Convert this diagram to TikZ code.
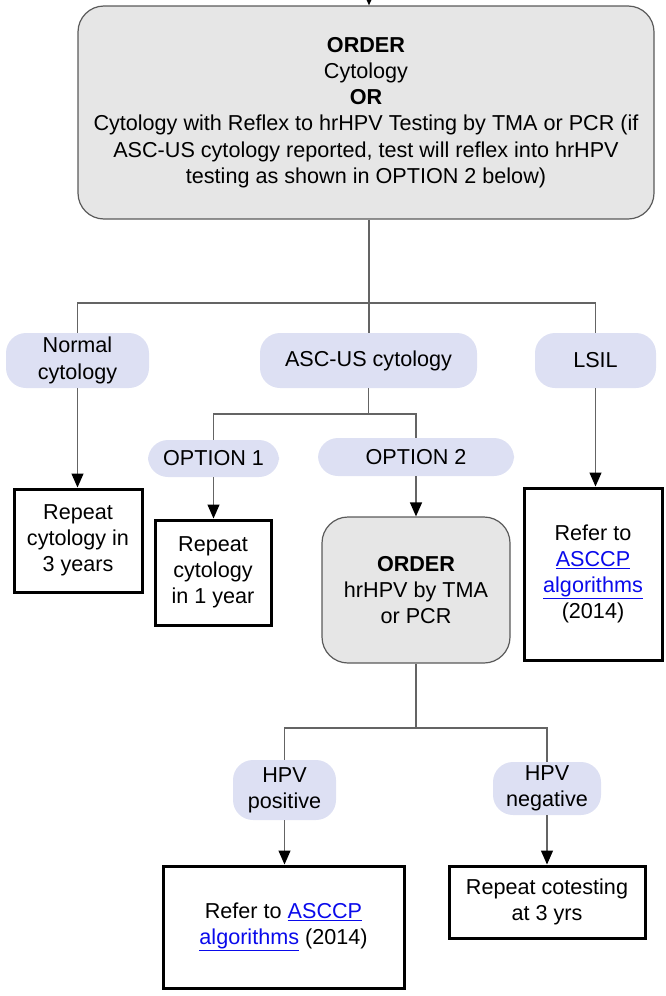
\documentclass[tikz,border=0pt]{standalone}
\usepackage{fontspec}
\setmainfont{Liberation Sans}
\usetikzlibrary{arrows.meta}
\definecolor{pillc}{RGB}{221,224,243}
\definecolor{boxg}{RGB}{230,230,230}
\definecolor{boxb}{RGB}{90,90,90}
\definecolor{lnc}{RGB}{100,100,100}
\definecolor{linkc}{RGB}{10,10,235}
\newcommand{\lnk}[1]{\textcolor{linkc}{\underline{#1}}}
\tikzset{
  base/.style={align=center, inner sep=0pt, font=\fontsize{21.6}{26.2}\selectfont},
  pill/.style={base, fill=pillc, draw=none, rounded corners=20pt},
  outbox/.style={base, draw=black, line width=3pt},
  graybox/.style={base, fill=boxg, draw=boxb, line width=1.2pt, rounded corners=26pt},
  ln/.style={draw=lnc, line width=1.3pt},
  arr/.style={ln, -{Triangle[length=14pt,width=12pt,color=black]}},
}
\begin{document}
\begin{tikzpicture}[x=1pt,y=-1pt]
\useasboundingbox (0,0) rectangle (666,996);
% top box
\node[graybox, minimum width=576pt, minimum height=213pt] (top) at (366,112.5)
 {\textbf{ORDER}\\Cytology\\\textbf{OR}\\Cytology with Reflex to hrHPV Testing by TMA or PCR (if\\ASC-US cytology reported, test will reflex into hrHPV\\testing as shown in OPTION 2 below)};
% level 1 pills
\node[pill, minimum width=143pt, minimum height=55pt] (nc) at (77.5,360.5) {Normal\\cytology};
\node[pill, minimum width=217pt, minimum height=55pt] (asc) at (368.5,360.5) {ASC-US cytology};
\node[pill, minimum width=121pt, minimum height=55pt] (lsil) at (595.5,360.5) {LSIL};
% outcome boxes
\node[outbox, minimum width=128pt, minimum height=103pt] (r3) at (78,540.5) {Repeat\\cytology in\\3 years};
\node[pill, minimum width=131pt, minimum height=37pt] (o1) at (213.5,458.5) {OPTION 1};
\node[pill, minimum width=196pt, minimum height=38pt] (o2) at (416,457) {OPTION 2};
\node[outbox, minimum width=116pt, minimum height=105pt] (r1) at (213,572.5) {Repeat\\cytology\\in 1 year};
\node[graybox, minimum width=188pt, minimum height=146pt] (ord) at (416,590) {\textbf{ORDER}\\hrHPV by TMA\\or PCR};
\node[outbox, minimum width=138pt, minimum height=172pt] (ref1) at (593,574) {Refer to\\\lnk{ASCCP}\\\lnk{algorithms}\\(2014)};
% HPV level
\node[pill, minimum width=103pt, minimum height=60pt] (hp) at (284.5,790) {HPV\\positive};
\node[pill, minimum width=108pt, minimum height=53pt] (hn) at (547,788.5) {HPV\\negative};
\node[outbox, minimum width=241pt, minimum height=122pt] (ref2) at (283.5,927) {Refer to \lnk{ASCCP}\\\lnk{algorithms} (2014)};
\node[outbox, minimum width=196pt, minimum height=72pt] (cot) at (547,902) {Repeat cotesting\\at 3 yrs};
% connectors
\coordinate (tin) at (369,0);
\draw[arr] (tin) -- (tin |- top.north);
\coordinate (b1) at (369,303);
\draw[ln] (tin |- top.south) -- (b1);
\draw[ln] (nc.north) |- (lsil.north |- b1) -- (lsil.north);
\draw[ln] (b1) -- (asc.north -| b1);
\draw[arr] (nc.south) -- (nc.south |- r3.north);
\draw[arr] (lsil.south) -- (lsil.south |- ref1.north);
\coordinate (b2) at (368.5,414);
\draw[ln] (asc.south) -- (b2);
\draw[ln] (o1.north) |- (o2.north |- b2) -- (o2.north);
\draw[arr] (o1.south) -- (o1.south |- r1.north);
\draw[arr] (o2.south) -- (ord.north);
\coordinate (b3) at (416,728);
\draw[ln] (ord.south) -- (b3);
\draw[ln] (hp.north) |- (hn.north |- b3) -- (hn.north);
\draw[arr] (hp.south) -- (hp.south |- ref2.north);
\draw[arr] (hn.south) -- (hn.south |- cot.north);
\end{tikzpicture}
\end{document}
